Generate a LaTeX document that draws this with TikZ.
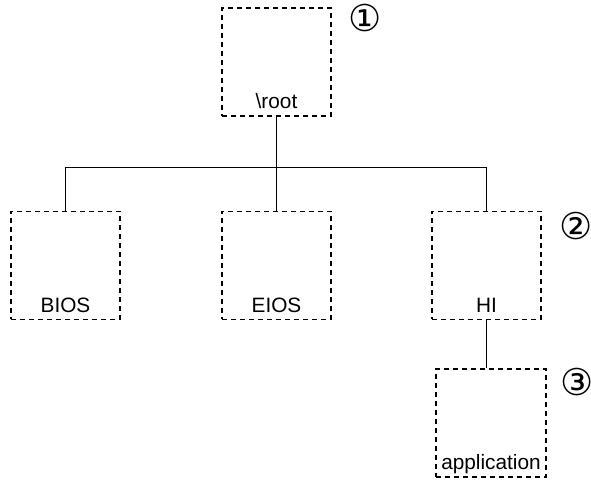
\documentclass[tikz,border=0pt]{standalone}
\usepackage{fontspec}
\setmainfont{Liberation Sans}
\newfontfamily\circfont{DejaVu Sans}

\tikzset{
  dirbox/.style = {draw, dashed, dash pattern = on 2.5pt off 2pt, line width = 0.6pt, minimum width = 54.5pt, minimum height = 54pt, inner sep = 0pt},
  dirname/.style = {anchor = base, yshift = 4pt, inner sep = 0pt, font = \fontsize{10.4}{12}\selectfont},
  marknum/.style = {font = \circfont\fontsize{18.5}{22}\selectfont, inner sep = 0pt}
}

\begin{document}
\begin{tikzpicture}[x = 0.5pt, y = 0.5pt]
\useasboundingbox (0,0) rectangle (591,480);

\node [dirbox, label = {[dirname]south:\textbackslash root}] (root) at (276.5,418) {};
\node [dirbox, label = {[dirname]south:BIOS}] (bios) at (65.5,214.5) {};
\node [dirbox, label = {[dirname]south:EIOS}] (eios) at (276.5,214.5) {};
\node [dirbox, label = {[dirname]south:HI}] (hi) at (486.5,214.5) {};
\node [dirbox, minimum width = 55pt, label = {[dirname]south:application}] (app) at (491,57) {};

\node [marknum] (n1) at (365,462) {①};
\node [marknum] (n2) at (576.5,254) {②};
\node [marknum] (n3) at (577,98) {③};

\draw [line width = 0.5pt] (root) edge (eios);
\draw [line width = 0.5pt] (bios.north) -- ++(0,43) -| (hi.north);
\draw [line width = 0.5pt] (hi.south) -- (hi.south |- app.north);
\end{tikzpicture}
\end{document}
